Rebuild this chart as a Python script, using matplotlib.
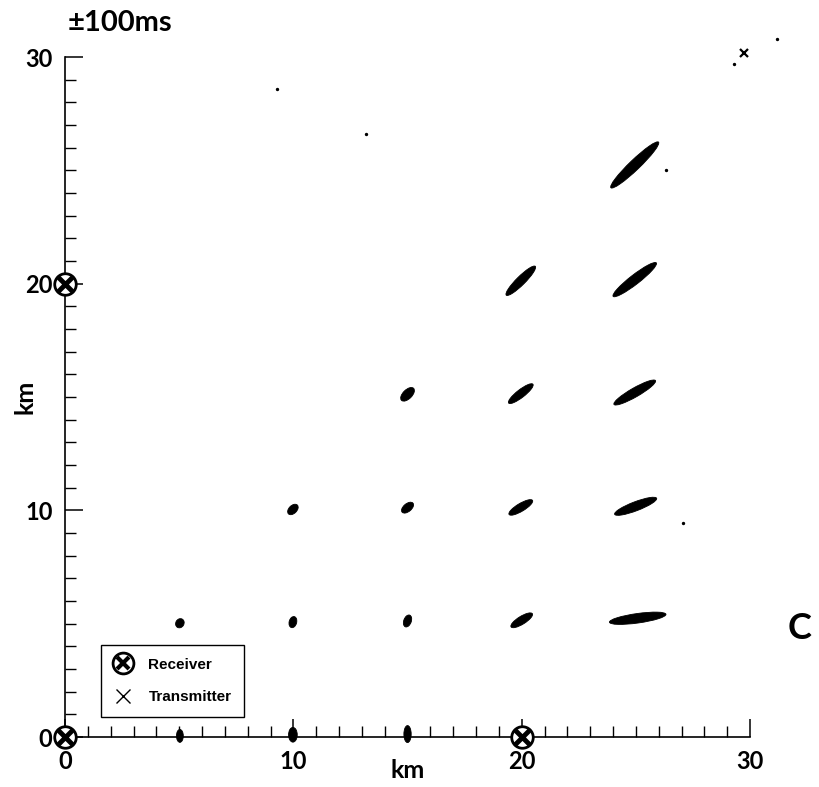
import matplotlib
matplotlib.use("Agg")
import matplotlib.pyplot as plt
from matplotlib.patches import Ellipse
from matplotlib.lines import Line2D
from matplotlib.ticker import MultipleLocator

# error clouds of the located sources: centre (km), full length / width (km), tilt (deg)
cloudX = [5.03, 9.98, 9.98, 15.0, 15.0, 15.0, 20.0, 19.96, 19.96, 19.96,
          25.08, 24.99, 24.95, 24.95, 24.95, 5.03, 9.98, 15.0]
cloudY = [5.02, 5.07, 10.04, 5.12, 10.12, 15.12, 5.15, 10.13, 15.15, 20.13,
          5.24, 10.18, 15.2, 20.18, 25.24, 0.05, 0.1, 0.13]
cloudLength = [0.42, 0.5, 0.55, 0.55, 0.62, 0.75, 1.1, 1.2, 1.35, 1.8,
               2.5, 1.97, 2.1, 2.4, 2.9, 0.57, 0.65, 0.75]
cloudWidth = [0.36, 0.33, 0.35, 0.33, 0.35, 0.4, 0.35, 0.35, 0.35, 0.38,
              0.42, 0.4, 0.4, 0.42, 0.45, 0.3, 0.38, 0.32]
cloudAngle = [60, 75, 45, 70, 40, 45, 32, 31, 38, 45,
              8, 21, 30, 38, 44, 90, 90, 90]

receiverX = [0, 0, 20]
receiverY = [0, 20, 0]
transmitterX = [29.75]
transmitterY = [30.2]

# isolated outliers
strayX = [9.28, 13.2, 27.05, 31.2, 29.3, 26.3]
strayY = [28.6, 26.6, 9.43, 30.8, 29.7, 25.0]

axisTicks = [0, 10, 20, 30]

labelFont = {"family": "Lato", "weight": "bold"}

fig = plt.figure(figsize=(8.19, 7.87), dpi=100)
ax = fig.add_axes([0.0794, 0.0635, 0.8364, 0.864])
ax.set_xlim(0, 30)
ax.set_ylim(0, 30)

for x, y, l, w, a in zip(cloudX, cloudY, cloudLength, cloudWidth, cloudAngle):
    ax.add_patch(Ellipse((x, y), l, w, angle=a, facecolor="black",
                         edgecolor="black", linewidth=0.6, clip_on=False, zorder=3))

ax.scatter(strayX, strayY, s=2, color="black", clip_on=False, zorder=3)

ax.plot(receiverX, receiverY, linestyle="none", marker="o", markersize=15.5,
        markerfacecolor="white", markeredgecolor="black", markeredgewidth=2,
        clip_on=False, zorder=5)
ax.plot(receiverX, receiverY, linestyle="none", marker="x", markersize=10,
        markeredgecolor="black", markeredgewidth=3.5, clip_on=False, zorder=6)
ax.plot(transmitterX, transmitterY, linestyle="none", marker="x", markersize=6,
        markeredgecolor="black", markeredgewidth=1.6, clip_on=False, zorder=5)

# axes: only left and bottom, ticks pointing inwards every km
for side in ["top", "right"]:
    ax.spines[side].set_visible(False)
for side in ["left", "bottom"]:
    ax.spines[side].set_linewidth(1.2)
ax.set_xticks(axisTicks)
ax.set_yticks(axisTicks)
ax.xaxis.set_minor_locator(MultipleLocator(1))
ax.yaxis.set_minor_locator(MultipleLocator(1))
ax.tick_params(which="major", direction="in", length=13, width=1.1, pad=9)
ax.tick_params(which="minor", direction="in", length=8, width=1.0)
for lbl in ax.get_xticklabels() + ax.get_yticklabels():
    lbl.set_fontfamily("Lato")
    lbl.set_fontweight("bold")
    lbl.set_fontsize(17)

ax.set_xlabel("km", fontsize=18, **labelFont)
ax.set_ylabel("km", fontsize=18, **labelFont)
ax.xaxis.set_label_coords(0.5, -0.032)
ax.yaxis.set_label_coords(-0.042, 0.5)

# legend
recHandle = (Line2D([], [], linestyle="none", marker="o", markersize=15,
                    markerfacecolor="white", markeredgecolor="black", markeredgewidth=2),
             Line2D([], [], linestyle="none", marker="x", markersize=9,
                    markeredgecolor="black", markeredgewidth=3))
txHandle = Line2D([], [], linestyle="none", marker="x", markersize=10,
                  markeredgecolor="black", markeredgewidth=1)
leg = ax.legend([recHandle, txHandle], ["Receiver", "Transmitter"],
                loc="lower left", bbox_to_anchor=(0.0526, 0.0294),
                borderaxespad=0, fancybox=False, framealpha=1, edgecolor="black",
                prop={"family": "Liberation Sans", "weight": "bold", "size": 11},
                handlelength=1.2, handletextpad=1.05, labelspacing=1.2,
                borderpad=0.85)
leg.get_frame().set_linewidth(1.0)

fig.text(0.082, 0.9606, "±100ms", fontsize=21, va="baseline", ha="left", **labelFont)
fig.text(0.976, 0.202, "C", fontsize=26, va="center", ha="center", **labelFont)

fig.savefig("out.png", dpi=100)
